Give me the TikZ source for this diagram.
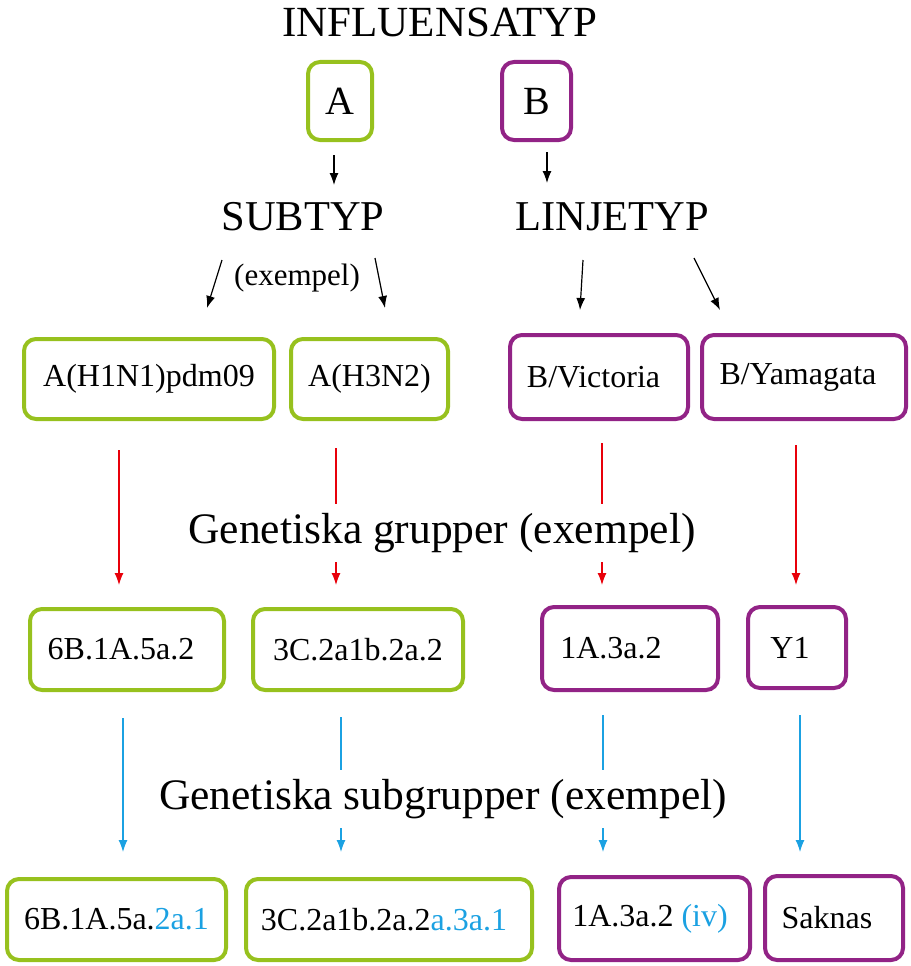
\documentclass[tikz,border=0pt]{standalone}
\usepackage{fontspec}
\setmainfont{Liberation Serif}
\usepackage{xcolor}
\usepackage{tikz}
\usetikzlibrary{arrows.meta}
\definecolor{typgreen}{RGB}{151,193,30}
\definecolor{typpurple}{RGB}{146,35,134}
\definecolor{subblue}{RGB}{27,161,226}
\definecolor{grpred}{RGB}{232,0,10}

\begin{document}
\begin{tikzpicture}[x=1pt,y=-1pt,
        box/.style={draw,rounded corners=12pt,line width=4pt,inner sep=0pt,
            font=\fontsize{32}{38}\selectfont},
        abox/.style={box,draw=typgreen},
        bbox/.style={box,draw=typpurple},
        head/.style={inner sep=0pt,font=\fontsize{42.5}{50}\selectfont},
        arr/.style={line width=1.2pt,-{Latex[length=12pt,width=9pt]}}]
            \useasboundingbox (0,0) rectangle (910,966);

            \node[head,font=\fontsize{43}{50}\selectfont] (typ) at (440,22) {INFLUENSATYP};
            \node[abox,minimum width=64pt,minimum height=78pt,font=\fontsize{40}{48}\selectfont] (a) at (340,101) {A};
            \node[bbox,minimum width=69pt,minimum height=78pt,font=\fontsize{40}{48}\selectfont] (b) at (536.5,101) {B};

            \node[head] (sub) at (303,217) {SUBTYP};
            \node[head] (lin) at (612,217) {LINJETYP};
            \node[inner sep=0pt,font=\fontsize{31}{36}\selectfont] (ex) at (297,278) {(exempel)};

            \node[abox,minimum width=250pt,minimum height=80pt] (h1) at (149,379) {A(H1N1)pdm09};
            \node[abox,minimum width=157pt,minimum height=80pt] (h3) at (369.5,379) {A(H3N2)};
            \node[bbox,minimum width=178pt,minimum height=84pt] (vic) at (599,377) {B/Victoria\kern11pt};
            \node[bbox,minimum width=204pt,minimum height=84pt] (yam) at (804,377) {B/Yamagata\kern12pt};

            \node[abox,minimum width=194pt,minimum height=81pt] (g1) at (127,649.5) {6B.1A.5a.2\kern12pt};
            \node[abox,minimum width=210pt,minimum height=81pt] (g2) at (358,649.5) {3C.2a1b.2a.2};
            \node[bbox,minimum width=176pt,minimum height=83pt] (g3) at (630,648.5) {1A.3a.2\kern38pt};
            \node[bbox,minimum width=98pt,minimum height=81pt] (g4) at (797,647.5) {Y1\kern14pt};

            \node[abox,minimum width=219pt,minimum height=81pt] (s1) at (116.5,919.5) {6B.1A.5a.\textcolor{subblue}{2a.1}};
            \node[abox,minimum width=286pt,minimum height=81pt] (s2) at (389,919.5) {3C.2a1b.2a.2\textcolor{subblue}{a.3a.1}\kern10pt};
            \node[bbox,minimum width=191pt,minimum height=83pt] (s3) at (654.5,918.5) {1A.3a.2 \textcolor{subblue}{(iv)}\kern9pt};
            \node[bbox,minimum width=138pt,minimum height=84pt] (s4) at (834,918) {Saknas\kern14pt};

            \draw[arr] ([shift={(-6,54)}]a.center) -- ([shift={(31,-32)}]sub.center);
            \draw[arr] ([shift={(10.5,51)}]b.center) -- ([shift={(-65,-34)}]lin.center);
            \draw[arr] ([shift={(-81,43)}]sub.center) -- ([shift={(58,-71)}]h1.center);
            \draw[arr] ([shift={(72,41)}]sub.center) -- ([shift={(15.5,-71)}]h3.center);
            \draw[arr] ([shift={(-29,43)}]lin.center) -- ([shift={(-19,-67)}]vic.center);
            \draw[arr] ([shift={(82,41)}]lin.center) -- ([shift={(-84,-67)}]yam.center);

            \draw[arr,draw=grpred,fill=grpred] ([shift={(-30,71)}]h1.center) -- ([shift={(-8,-64.5)}]g1.center);
            \draw[arr,draw=grpred,fill=grpred] ([shift={(-33.5,69)}]h3.center) -- ([shift={(-22,-64.5)}]g2.center);
            \draw[arr,draw=grpred,fill=grpred] ([shift={(3,66)}]vic.center) -- ([shift={(-28,-63.5)}]g3.center);
            \draw[arr,draw=grpred,fill=grpred] ([shift={(-8,68)}]yam.center) -- ([shift={(-1,-62.5)}]g4.center);

            \draw[arr,draw=subblue,fill=subblue] ([shift={(-4,68.5)}]g1.center) -- ([shift={(6.5,-67.5)}]s1.center);
            \draw[arr,draw=subblue,fill=subblue] ([shift={(-17,67.5)}]g2.center) -- ([shift={(-48,-67.5)}]s2.center);
            \draw[arr,draw=subblue,fill=subblue] ([shift={(-27,66.5)}]g3.center) -- ([shift={(-51.5,-66.5)}]s3.center);
            \draw[arr,draw=subblue,fill=subblue] ([shift={(3,67.5)}]g4.center) -- ([shift={(-34,-66)}]s4.center);

            \node[head,fill=white,inner ysep=9pt,inner xsep=2pt,font=\fontsize{43.5}{50}\selectfont] (grp) at (442,533) {Genetiska grupper (exempel)};
            \node[head,fill=white,inner ysep=9pt,inner xsep=2pt,font=\fontsize{43.5}{50}\selectfont] (subgrp) at (443,799) {Genetiska subgrupper (exempel)};
        \end{tikzpicture}
\end{document}
